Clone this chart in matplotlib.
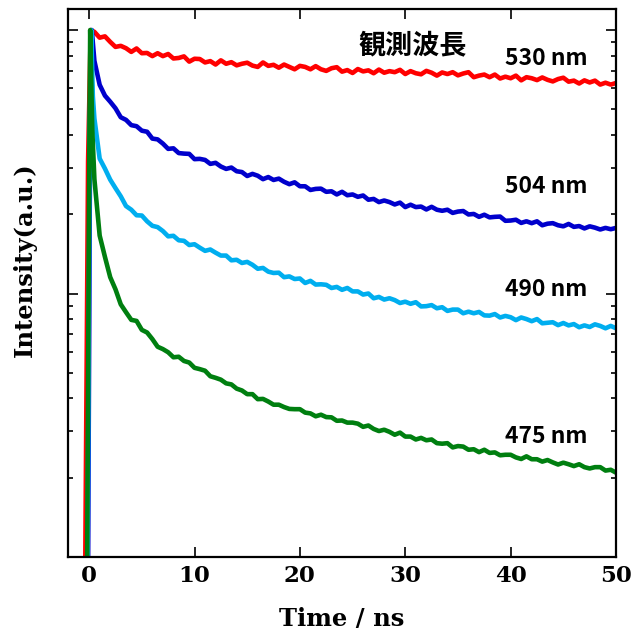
import numpy as np
import matplotlib

matplotlib.use("Agg")
import matplotlib.pyplot as plt
from matplotlib.ticker import LogLocator, NullFormatter

# time axis (ns): rise samples per curve + a common 0.5 ns sampling grid for the decay
T_GRID = np.linspace(0.5, 50.0, 100)

# values are log10(intensity), normalised to peak = 1
RISE_T_530 = [-0.45, -0.1, 0.15]
RISE_L_530 = [-2.5, -0.5, 0.0]
LOG_530 = [
    -0.007, -0.029, -0.024, -0.045, -0.064, -0.060, -0.069, -0.083, -0.070, -0.088,
    -0.087, -0.099, -0.088, -0.099, -0.091, -0.108, -0.106, -0.100, -0.120, -0.109,
    -0.110, -0.123, -0.118, -0.131, -0.115, -0.128, -0.122, -0.134, -0.128, -0.124,
    -0.135, -0.140, -0.123, -0.136, -0.132, -0.143, -0.131, -0.140, -0.149, -0.136,
    -0.140, -0.149, -0.137, -0.149, -0.155, -0.145, -0.141, -0.158, -0.152, -0.163,
    -0.148, -0.157, -0.153, -0.164, -0.150, -0.162, -0.156, -0.160, -0.151, -0.167,
    -0.156, -0.164, -0.168, -0.155, -0.162, -0.173, -0.161, -0.167, -0.160, -0.172,
    -0.165, -0.160, -0.179, -0.173, -0.169, -0.179, -0.169, -0.184, -0.177, -0.183,
    -0.173, -0.191, -0.179, -0.183, -0.190, -0.180, -0.189, -0.195, -0.186, -0.181,
    -0.196, -0.192, -0.203, -0.191, -0.199, -0.192, -0.207, -0.200, -0.207, -0.201,
]

RISE_T_504 = [-0.15, 0.1, 0.25]
RISE_L_504 = [-2.5, -0.3, 0.0]
LOG_504 = [
    -0.117, -0.208, -0.249, -0.272, -0.297, -0.331, -0.341, -0.361, -0.365, -0.382,
    -0.386, -0.412, -0.415, -0.431, -0.451, -0.449, -0.467, -0.469, -0.470, -0.490,
    -0.489, -0.493, -0.508, -0.504, -0.518, -0.527, -0.522, -0.536, -0.539, -0.554,
    -0.546, -0.553, -0.566, -0.558, -0.569, -0.564, -0.576, -0.585, -0.578, -0.593,
    -0.593, -0.607, -0.603, -0.602, -0.614, -0.612, -0.624, -0.614, -0.627, -0.624,
    -0.633, -0.628, -0.644, -0.641, -0.653, -0.647, -0.653, -0.662, -0.655, -0.672,
    -0.663, -0.672, -0.670, -0.681, -0.671, -0.682, -0.686, -0.682, -0.694, -0.689,
    -0.687, -0.700, -0.698, -0.709, -0.701, -0.711, -0.709, -0.708, -0.724, -0.723,
    -0.720, -0.732, -0.726, -0.733, -0.726, -0.741, -0.735, -0.733, -0.741, -0.745,
    -0.736, -0.747, -0.744, -0.753, -0.745, -0.750, -0.757, -0.751, -0.756, -0.751,
]

RISE_T_490 = [-0.2, 0.05, 0.2, 0.35]
RISE_L_490 = [-2.5, -0.4, 0.0, -0.25]
LOG_490 = [
    -0.336, -0.488, -0.526, -0.568, -0.600, -0.631, -0.668, -0.682, -0.703, -0.704,
    -0.726, -0.743, -0.748, -0.763, -0.783, -0.781, -0.798, -0.800, -0.816, -0.813,
    -0.826, -0.838, -0.833, -0.845, -0.856, -0.856, -0.874, -0.872, -0.884, -0.880,
    -0.891, -0.906, -0.903, -0.917, -0.922, -0.921, -0.938, -0.935, -0.945, -0.943,
    -0.960, -0.952, -0.966, -0.965, -0.967, -0.979, -0.975, -0.986, -0.979, -0.992,
    -0.992, -1.004, -1.000, -1.018, -1.013, -1.023, -1.018, -1.025, -1.036, -1.031,
    -1.039, -1.033, -1.049, -1.048, -1.044, -1.056, -1.052, -1.066, -1.061, -1.061,
    -1.075, -1.069, -1.075, -1.070, -1.083, -1.084, -1.078, -1.091, -1.085, -1.090,
    -1.101, -1.091, -1.097, -1.105, -1.097, -1.113, -1.111, -1.109, -1.120, -1.112,
    -1.121, -1.116, -1.128, -1.121, -1.127, -1.117, -1.123, -1.132, -1.123, -1.132,
]

RISE_T_475 = [-0.25, 0.0, 0.1, 0.3]
RISE_L_475 = [-2.5, -0.6, 0.0, -0.38]
LOG_475 = [
    -0.566, -0.780, -0.861, -0.938, -0.984, -1.041, -1.071, -1.100, -1.104, -1.138,
    -1.148, -1.173, -1.202, -1.211, -1.223, -1.242, -1.240, -1.256, -1.262, -1.282,
    -1.287, -1.293, -1.314, -1.320, -1.327, -1.341, -1.345, -1.361, -1.368, -1.382,
    -1.382, -1.401, -1.400, -1.410, -1.422, -1.422, -1.431, -1.438, -1.439, -1.439,
    -1.452, -1.455, -1.466, -1.460, -1.469, -1.470, -1.483, -1.482, -1.490, -1.490,
    -1.494, -1.506, -1.501, -1.514, -1.522, -1.517, -1.525, -1.536, -1.528, -1.543,
    -1.543, -1.554, -1.548, -1.557, -1.554, -1.568, -1.570, -1.568, -1.584, -1.579,
    -1.581, -1.593, -1.591, -1.602, -1.593, -1.605, -1.603, -1.614, -1.612, -1.612,
    -1.622, -1.628, -1.618, -1.629, -1.629, -1.638, -1.632, -1.641, -1.649, -1.642,
    -1.648, -1.655, -1.648, -1.659, -1.664, -1.659, -1.659, -1.672, -1.669, -1.680,
]

WAVELENGTHS = ["530 nm", "504 nm", "490 nm", "475 nm"]
COLORS = ["#ff0000", "#0000cc", "#00aeef", "#007f10"]
TITLE_JP = "観測波長"

series = [
    (RISE_T_530, RISE_L_530, LOG_530),
    (RISE_T_504, RISE_L_504, LOG_504),
    (RISE_T_490, RISE_L_490, LOG_490),
    (RISE_T_475, RISE_L_475, LOG_475),
]

fig = plt.figure(figsize=(6.36, 6.37), dpi=100)
ax = fig.add_axes([0.107, 0.1256, 0.8616, 0.8603])

for (rt, rl, tail), col in zip(series, COLORS):
    t = np.concatenate([rt, T_GRID])
    y = 10.0 ** np.concatenate([rl, tail])
    ax.plot(t, y, color=col, lw=3.3, solid_joinstyle="round")

ax.set_yscale("log")
ax.set_xlim(-2, 50)
ax.set_ylim(0.01, 1.202)
ax.set_xticks([0, 10, 20, 30, 40, 50])
ax.yaxis.set_major_locator(LogLocator(base=10))
ax.yaxis.set_minor_locator(LogLocator(base=10, subs=np.arange(2, 10)))
ax.yaxis.set_major_formatter(NullFormatter())
ax.yaxis.set_minor_formatter(NullFormatter())
ax.tick_params(axis="both", which="major", direction="in", length=7, width=1.2,
               top=True, right=True)
ax.tick_params(axis="y", which="minor", direction="in", length=3.5, width=1.2,
               left=True, right=True)
ax.tick_params(axis="x", which="major", pad=6)
for s in ax.spines.values():
    s.set_linewidth(1.6)

serif = {"family": "DejaVu Serif", "weight": "bold"}
for lab in ax.get_xticklabels():
    lab.set_fontfamily("DejaVu Serif")
    lab.set_fontweight("bold")
    lab.set_fontsize(16.5)
ax.set_xlabel("Time / ns", fontdict=serif, fontsize=17.5, labelpad=14)
ax.set_ylabel("Intensity(a.u.)", fontdict=serif, fontsize=17.5)
ax.yaxis.set_label_coords(-0.057, 0.542)

jp = ["Noto Sans CJK JP", "DejaVu Sans"]
label_y = [0.783, 0.255, 0.1035, 0.0286]
for txt, yy in zip(WAVELENGTHS, label_y):
    ax.text(39.5, yy, txt, family=jp, weight="bold", fontsize=16.5,
            ha="left", va="center")
ax.text(25.6, 0.877, TITLE_JP, family=jp, weight="bold", fontsize=19.5,
        ha="left", va="center")

fig.savefig("out.png", dpi=100)
